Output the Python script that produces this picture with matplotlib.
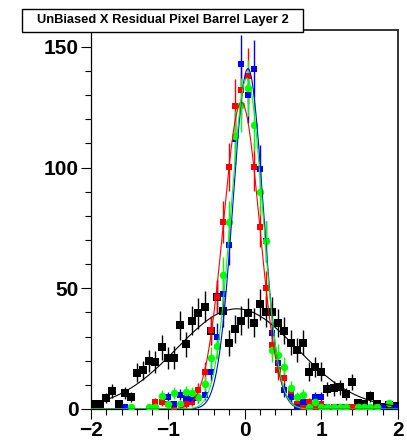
import numpy as np
import matplotlib
matplotlib.use("Agg")
import matplotlib.pyplot as plt
from matplotlib.patches import Rectangle
from matplotlib.ticker import MultipleLocator

plt.rcParams['font.family'] = ['Liberation Sans', 'DejaVu Sans']

# 50 bins of width 0.08 between -2 and 2
bin_edges = np.linspace(-2.0, 2.0, 51)
bin_centers = 0.5 * (bin_edges[:-1] + bin_edges[1:])

black_counts = [2, 2, 4.5, 7.5, 2, 6.5, 5, 15, 16, 20,
                19.5, 25.5, 21, 21.3, 34.6, 26.8, 36.6, 39.6, 42.4, 32.2,
                46.6, 40.4, 27.3, 33.1, 36.6, 39.7, 35.8, 43.3, 40.3, 40,
                35.6, 32.5, 27.5, 24.4, 27.4, 15.5, 17.3, 15.5, 8.2, 8.5,
                9, 6.1, 11, 2.3, 2.1, 5.2, 2.2, 1, 1.7, 1.2]

red_counts = [0, 0, 0, 0, 0, 0, 0, 0, 0, 0,
              3, 3, 2, 1, 0, 2, 3, 8, 15.5, 32.8,
              46.6, 77.5, 100.3, 125.4, 132, 138, 100.3, 75.6, 50, 26.6,
              16, 12.7, 6.5, 2, 1, 3, 1, 2, 0, 1,
              0, 1, 1, 1, 0, 0, 1, 0, 0, 1]

blue_counts = [0, 0, 0, 0, 0, 1, 0, 0, 0, 0,
               0, 0, 5, 2, 6, 4.5, 4, 4.5, 6, 15.5,
               30, 47.6, 68, 112, 143, 130, 141, 99.4, 69.4, 31.4,
               19, 8, 5, 1, 3, 1, 5, 5, 1, 0,
               1, 0, 0, 0, 1, 0, 0, 1, 0, 1]

green_counts = [0, 0, 0, 0, 0, 0, 1, 0, 0, 1,
                1, 5.5, 2, 6.5, 2, 7, 6.5, 5, 10.5, 21,
                26, 55.6, 77.5, 113, 126, 133, 117.8, 90, 69.4, 24.5,
                22.4, 17.3, 8.6, 5, 5.8, 1, 3, 1, 1, 1,
                1, 1, 0, 1, 1, 1, 1, 0, 2.3, 0]

# Gaussian fit parameters: (amplitude, mean, sigma)
black_fit = (41.5, -0.10, 0.78)
red_fit = (127.0, -0.04, 0.235)
blue_fit = (141.0, 0.045, 0.195)
green_fit = (137.0, 0.03, 0.205)

x_ticks = [-2, -1, 0, 1, 2]
y_ticks = [0, 50, 100, 150]
title = "UnBiased X Residual Pixel Barrel Layer 2"


def gauss(x, amp, mean, sigma):
    return amp * np.exp(-0.5 * ((x - mean) / sigma) ** 2)


W, H = 407, 441
fig = plt.figure(figsize=(W / 100, H / 100), dpi=100)
ax = fig.add_axes([91 / W, 32 / H, (398 - 91) / W, (409 - 30) / H])

xf = np.linspace(-2, 2, 800)

series = [
    (black_counts, black_fit, 'black', 's', 5.2),
    (red_counts, red_fit, '#ff0000', 's', 5.0),
    (blue_counts, blue_fit, '#0000ff', 's', 5.0),
    (green_counts, green_fit, '#00ff00', 'o', 5.4),
]

for counts, fit, color, marker, ms in series:
    counts = np.asarray(counts, dtype=float)
    mask = counts > 0
    ax.errorbar(bin_centers[mask], counts[mask], yerr=np.sqrt(counts[mask]),
                fmt=marker, color=color, ms=ms, mew=0, elinewidth=1.0,
                capsize=0, zorder=3)
    ax.plot(xf, gauss(xf, *fit), color=color, lw=0.8, zorder=4)

ax.set_xlim(-2, 2)
ax.set_ylim(0, 157)
ax.set_xticks(x_ticks)
ax.set_yticks(y_ticks)
ax.xaxis.set_minor_locator(MultipleLocator(0.2))
ax.yaxis.set_minor_locator(MultipleLocator(10))
ax.tick_params(axis='both', which='major', direction='out', length=7,
               width=0.8, labelsize=15, colors='black')
ax.tick_params(axis='both', which='minor', direction='out', length=4.2,
               width=0.8)
ax.tick_params(axis='y', pad=2)
ax.tick_params(axis='x', pad=2)
for lab in ax.get_xticklabels() + ax.get_yticklabels():
    lab.set_fontweight('bold')

for side in ['left', 'bottom']:
    ax.spines[side].set_linewidth(0.9)
for side in ['top', 'right']:
    ax.spines[side].set_linewidth(1.4)
    ax.spines[side].set_color('#333333')

# title box
box = Rectangle((22 / W, (H - 32) / H), (303 - 22) / W, 23 / H,
                transform=fig.transFigure, facecolor='white',
                edgecolor='black', lw=1.0, zorder=10)
fig.patches.append(box)
fig.text((22 + 303) / 2 / W, (H - 20.5) / H, title, ha='center', va='center',
         fontsize=9.3, fontweight='bold', zorder=11)

fig.savefig("out.png", dpi=100)
